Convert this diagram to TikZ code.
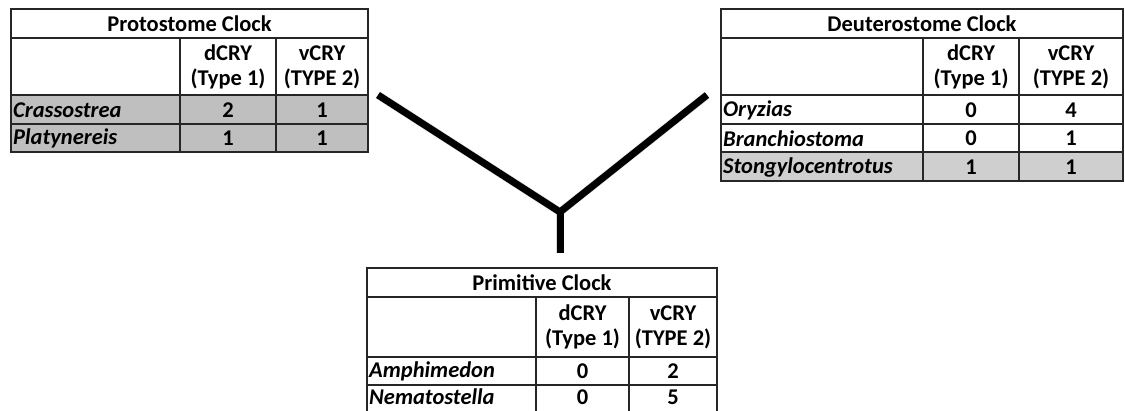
\documentclass[tikz,border=0pt]{standalone}
\usepackage{fontspec}
\setmainfont{Carlito}
\begin{document}
\begin{tikzpicture}[x=1pt,y=-1pt,
  grid/.style={draw=black!85,line width=1.2pt},
  cell/.style={inner sep=0pt,font=\fontsize{22.5}{25}\selectfont\bfseries,align=center},
  sp/.style={inner sep=0pt,anchor=west,font=\fontsize{22.5}{25}\selectfont\bfseries\itshape},
  branch/.style={line width=7pt,black,line join=miter},
  shade/.style={line width=8pt,black!25,line join=miter,opacity=0.6}]
\useasboundingbox (0,0) rectangle (1125,410);
\fill[white] (0,0) rectangle (1125,410);

% ---------- Protostome ----------
\fill[black!25] (11,95) rectangle (368,152);
\draw[grid] (11,9) rectangle (368,152);
\draw[grid] (11,38) -- (368,38) (11,95) -- (368,95) (11,124) -- (368,124);
\draw[grid] (180,38) -- (180,152) (276,38) -- (276,152);
\node[cell] (pt) at (189.5,24) {Protostome Clock};
\node[cell] (pd) at (228,67) {dCRY\\(Type 1)};
\node[cell] (pv) at (322,67) {vCRY\\(TYPE 2)};
\node[sp] (p1) at (13,110) {Crassostrea};
\node[cell] (p1d) at (228,110) {2};
\node[cell] (p1v) at (322,110) {1};
\node[sp] (p2) at (13,138.5) {Platynereis};
\node[cell] (p2d) at (228,138.5) {1};
\node[cell] (p2v) at (322,138.5) {1};

% ---------- Deuterostome ----------
\fill[black!19] (721,152) rectangle (1123,181);
\draw[grid] (721,9) rectangle (1123,181);
\draw[grid] (721,38) -- (1123,38) (721,95) -- (1123,95) (721,124) -- (1123,124) (721,152) -- (1123,152);
\draw[grid] (923,38) -- (923,181) (1019,38) -- (1019,181);
\node[cell] (dt) at (922,24) {Deuterostome Clock};
\node[cell] (dd) at (971,67) {dCRY\\(Type 1)};
\node[cell] (dv) at (1071,67) {vCRY\\(TYPE 2)};
\node[sp] (d1) at (723,110) {Oryzias};
\node[cell] (d1d) at (971,110) {0};
\node[cell] (d1v) at (1071,110) {4};
\node[sp] (d2) at (723,138.5) {Branchiostoma};
\node[cell] (d2d) at (971,138.5) {0};
\node[cell] (d2v) at (1071,138.5) {1};
\node[sp] (d3) at (723,167) {Stongylocentrotus};
\node[cell] (d3d) at (971,167) {1};
\node[cell] (d3v) at (1071,167) {1};

% ---------- Primitive ----------
\draw[grid] (367,412) -- (367,268) -- (717,268) -- (717,412);
\draw[grid] (367,297) -- (717,297) (367,357) -- (717,357) (367,385) -- (717,385);
\draw[grid] (536,297) -- (536,412) (629,297) -- (629,412);
\node[cell] (mt) at (542,283) {Primitive Clock};
\node[cell] (md) at (582.5,327) {dCRY\\(Type 1)};
\node[cell] (mv) at (673,327) {vCRY\\(TYPE 2)};
\node[sp] (m1) at (369,371.5) {Amphimedon};
\node[cell] (m1d) at (582.5,371.5) {0};
\node[cell] (m1v) at (673,371.5) {2};
\node[sp] (m2) at (369,397) {Nematostella};
\node[cell] (m2d) at (582.5,397) {0};
\node[cell] (m2v) at (673,397) {5};

% ---------- Y branch ----------
\coordinate (la) at (378,95);
\coordinate (ra) at (707,95);
\coordinate (j) at (560,212);
\coordinate (st) at (560,253);
\begin{scope}[shift={(1.5,2)}]
\draw[shade] (la) -- (j) -- (ra);
\draw[shade] (j) -- (st);
\end{scope}
\draw[branch] (la) -- (j) -- (ra);
\draw[branch] (j) -- (st);
\end{tikzpicture}
\end{document}
